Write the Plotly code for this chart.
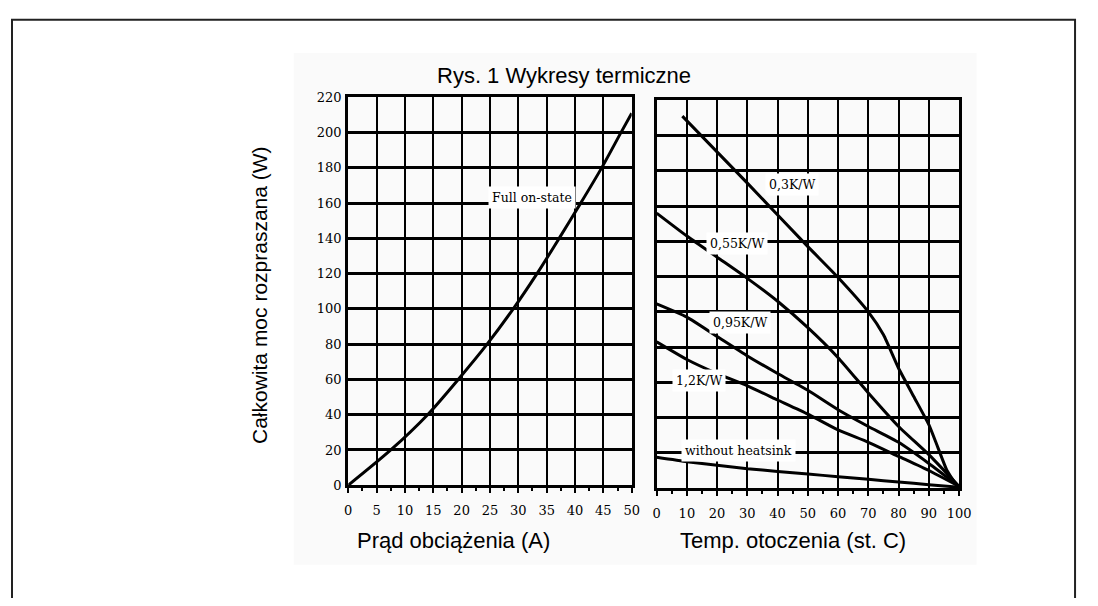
import plotly.graph_objects as go

# Page is 1098x606; body has an 8px margin on every side.
PAGE_W, PAGE_H = 1098, 606
MARGIN = 8
W, H = PAGE_W - 2 * MARGIN, PAGE_H - 2 * MARGIN

# ---- data ----
current_A = [0, 7.5, 14.0, 19.4, 24.5, 29.1, 33.3, 37.2, 41.0, 44.7, 48.1, 50]
power_full_W = [0, 20, 40, 60, 80, 100, 120, 140, 160, 180, 200, 211]

temp_03 = [8.5, 30, 50, 60, 70, 75, 80, 85, 90, 93, 96, 99]
power_03 = [211, 173, 137, 119.5, 100, 87, 68, 52, 36, 23, 10, 2]

temp_grid = [0, 10, 20, 30, 40, 50, 60, 70, 80, 90, 100]
power_055 = [156, 143, 131, 119, 106, 91, 74, 54, 35, 19, 1]
power_095 = [104.5, 97, 86, 75, 65, 55.5, 44.5, 35, 26, 14, 1]
power_12 = [83, 73, 65, 58, 50, 42, 33, 26, 18, 10, 1]
power_none = [17.5, 15, 13, 11, 9.5, 8, 6.5, 5, 3.5, 2, 0.5]

left_x_ticks = [0, 5, 10, 15, 20, 25, 30, 35, 40, 45, 50]
right_x_ticks = [0, 10, 20, 30, 40, 50, 60, 70, 80, 90, 100]
y_ticks = [0, 20, 40, 60, 80, 100, 120, 140, 160, 180, 200, 220]

curve_labels_right = [
    ("0,3K/W", 44.8, 172),
    ("0,55K/W", 26.6, 138.5),
    ("0,95K/W", 27.5, 94),
    ("1,2K/W", 13.9, 61),
    ("without heatsink", 27.2, 21.3),
]

TICKFONT = dict(family="DejaVu Serif", size=13, color="black")
LBLFONT = dict(family="DejaVu Serif", size=12.5, color="black")
SANS = dict(family="Liberation Sans, Arial", size=22, color="black")
SANS_Y = dict(family="Liberation Sans, Arial", size=21, color="black")


def px_x(p):
    """page pixel x -> paper fraction"""
    return (p - MARGIN) / W


def px_y(p):
    """page pixel y -> paper fraction"""
    return 1 - (p - MARGIN) / H


fig = go.Figure()

fig.add_trace(go.Scatter(x=current_A, y=power_full_W, mode="lines",
                         line=dict(color="black", width=3, shape="spline", smoothing=0.8),
                         xaxis="x", yaxis="y", showlegend=False, hoverinfo="skip"))
fig.add_trace(go.Scatter(x=temp_03, y=power_03, mode="lines",
                         line=dict(color="black", width=3, shape="spline", smoothing=0.5),
                         xaxis="x2", yaxis="y2", showlegend=False, hoverinfo="skip"))
for series in (power_055, power_095, power_12, power_none):
    fig.add_trace(go.Scatter(x=temp_grid, y=series, mode="lines",
                             line=dict(color="black", width=3, shape="spline", smoothing=0.5),
                             xaxis="x2", yaxis="y2", showlegend=False, hoverinfo="skip"))

common_x = dict(showgrid=True, gridcolor="black", gridwidth=2, zeroline=False,
                showline=True, linecolor="black", linewidth=3, mirror=True,
                ticks="outside", ticklen=5, tickwidth=2, tickcolor="black",
                tickfont=TICKFONT, ticklabelstandoff=6)
minor = dict(ticks="outside", ticklen=3, tickwidth=2, tickcolor="black", showgrid=False)
common_y = dict(showgrid=True, gridcolor="black", gridwidth=3, zeroline=False,
                showline=True, linecolor="black", linewidth=3, mirror=True,
                range=[0, 220], tickvals=y_ticks, tickfont=TICKFONT)

fig.update_layout(
    width=W, height=H,
    margin=dict(l=0, r=0, t=0, b=0),
    paper_bgcolor="white", plot_bgcolor="white",
    xaxis=dict(domain=[px_x(349.3), px_x(637)], range=[0, 50], tickvals=left_x_ticks,
               anchor="y", minor=dict(minor, dtick=2.5, tick0=0), **common_x),
    yaxis=dict(domain=[px_y(490.5), px_y(92.5)], anchor="x", ticks="", ticklabelstandoff=1, **common_y),
    xaxis2=dict(domain=[px_x(662.3), px_x(969.3)], range=[0, 100], tickvals=right_x_ticks,
                anchor="y2", minor=dict(minor, dtick=5, tick0=0), **common_x),
    yaxis2=dict(domain=[px_y(493.5), px_y(95.5)], anchor="x2", ticks="", showticklabels=False, **common_y),
    shapes=[
        dict(type="rect", xref="paper", yref="paper", layer="below",
             x0=px_x(294), x1=px_x(987), y0=px_y(572), y1=px_y(47),
             fillcolor="#fafafa", line=dict(width=0)),
        dict(type="rect", xref="paper", yref="paper", layer="above",
             x0=px_x(8), x1=px_x(1087), y0=px_y(640), y1=px_y(13),
             fillcolor="rgba(0,0,0,0)", line=dict(color="#222222", width=2)),
    ],
)

ann = [
    dict(text="Rys. 1 Wykresy termiczne", x=px_x(568), y=px_y(70), xref="paper", yref="paper",
         showarrow=False, font=SANS, xanchor="center", yanchor="middle"),
    dict(text="Prąd obciążenia (A)", x=px_x(456), y=px_y(547), xref="paper", yref="paper",
         showarrow=False, font=SANS, xanchor="center", yanchor="middle"),
    dict(text="Temp. otoczenia (st. C)", x=px_x(801), y=px_y(547), xref="paper", yref="paper",
         showarrow=False, font=SANS, xanchor="center", yanchor="middle"),
    dict(text="Całkowita moc rozpraszana (W)", x=px_x(259), y=px_y(295), xref="paper", yref="paper",
         showarrow=False, font=SANS_Y, textangle=-90, xanchor="center", yanchor="middle"),
    dict(text="Full on-state", x=32.5, y=163, xref="x", yref="y", showarrow=False,
         font=LBLFONT, bgcolor="white", borderpad=3),
]
for txt, tx, ty in curve_labels_right:
    ann.append(dict(text=txt, x=tx, y=ty, xref="x2", yref="y2", showarrow=False,
                    font=LBLFONT, bgcolor="white", borderpad=3))
fig.update_layout(annotations=ann)

fig.write_html("out.html")
